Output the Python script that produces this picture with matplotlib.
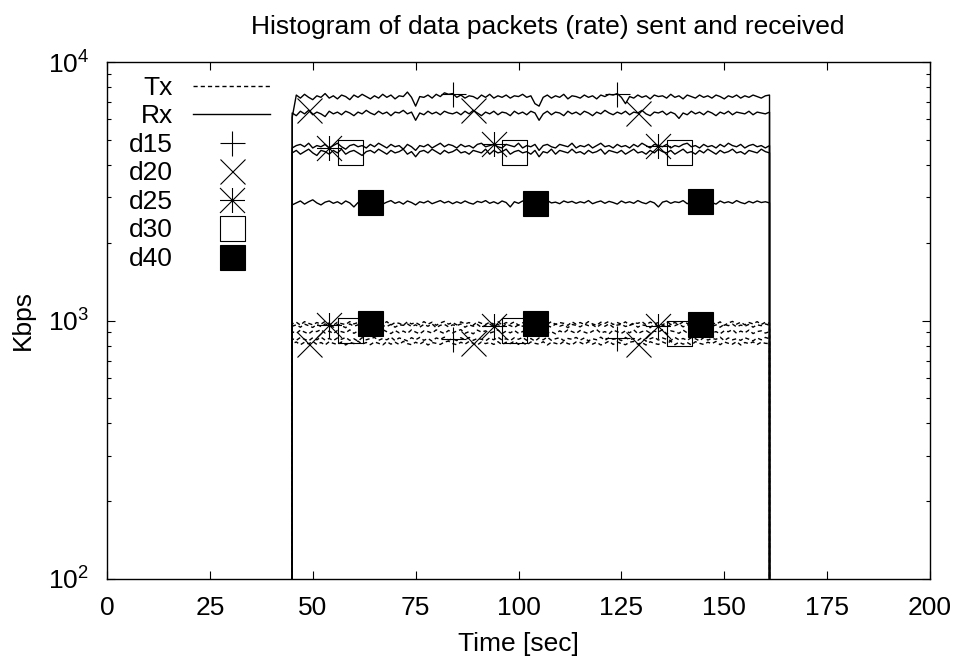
import numpy as np
import matplotlib
matplotlib.use("Agg")
import matplotlib.pyplot as plt
from matplotlib.path import Path
from matplotlib.lines import Line2D

plt.rcParams['font.family'] = ['Liberation Sans', 'DejaVu Sans']

# ---------------- data ----------------
T_START = 45          # first second of traffic
MARK_EVERY = 40       # a point symbol every 40 samples
datasets = ["d15", "d20", "d25", "d30", "d40"]
mark_first = [84, 49, 54, 59, 64]   # time of first visible symbol

rx_d15 = [6100, 7450, 7250, 7500, 7300, 7150, 7400, 7300, 7550, 7250,
          7400, 7200, 7450, 7350, 7150, 7450, 7300, 7500, 7350, 7200,
          7400, 7250, 7500, 7300, 7450, 7200, 7400, 7350, 7650, 7300,
          6750, 7350, 7300, 7450, 7250, 7500, 7350, 7600, 7500, 7550,
          7300, 7450, 7250, 7400, 7350, 7200, 7450, 7300, 7500, 7250,
          7400, 7300, 7450, 7250, 7400, 7350, 7500, 7300, 7400, 6900,
          6750, 7300, 7450, 7250, 7400, 7300, 7500, 7200, 7400, 7350,
          7250, 7450, 7300, 7400, 7200, 7450, 7350, 7500, 7450, 7550,
          7300, 6900, 7350, 7250, 7450, 7300, 7400, 7200, 7450, 7350,
          7400, 7250, 7500, 7300, 7400, 7200, 7450, 7350, 7250, 7450,
          7300, 7400, 7250, 7450, 7350, 7200, 7400, 7300, 7450, 7250,
          7400, 7300, 7450, 7350, 7250, 7400, 7450]
rx_d20 = [6350, 6200, 6450, 6300, 6500, 6250, 6400, 6300, 6150, 6450,
          6300, 6400, 6250, 6450, 6350, 6200, 6400, 6300, 6500, 6350,
          6250, 6450, 6300, 6400, 6200, 6400, 6350, 6500, 6300, 6400,
          5950, 6350, 6250, 6450, 6300, 6400, 6250, 6450, 6350, 6300,
          6400, 6250, 6450, 6300, 6500, 6350, 6200, 6400, 6300, 6450,
          6250, 6400, 6350, 6200, 6450, 6300, 6400, 6250, 6450, 6350,
          5950, 6300, 6450, 6250, 6400, 6350, 6200, 6450, 6300, 6400,
          6250, 6450, 6350, 6200, 6400, 6300, 6500, 6350, 6250, 6400,
          6300, 6450, 6250, 6400, 6350, 6500, 6300, 6200, 6400, 6350,
          6450, 6250, 6400, 6300, 6050, 6350, 6250, 6450, 6300, 6400,
          6250, 6450, 6350, 6200, 6400, 6300, 6450, 6250, 6400, 6350,
          6300, 6450, 6250, 6400, 6350, 6300, 6400]
rx_d25 = [4650, 4750, 4800, 4700, 4850, 4650, 4750, 4700, 4800, 4650,
          4750, 4850, 4700, 4600, 4750, 4800, 4700, 4750, 4650, 4800,
          4700, 4850, 4750, 4650, 4800, 4700, 4750, 4600, 4800, 4700,
          4550, 4750, 4700, 4800, 4650, 4750, 4850, 4700, 4800, 4750,
          4650, 4800, 4700, 4750, 4650, 4800, 4850, 4700, 4750, 4800,
          4700, 4650, 4800, 4750, 4700, 4850, 4650, 4750, 4700, 4800,
          4550, 4750, 4800, 4700, 4650, 4800, 4750, 4700, 4850, 4650,
          4750, 4700, 4800, 4650, 4750, 4850, 4700, 4750, 4650, 4800,
          4700, 4750, 4650, 4800, 4700, 4850, 4750, 4650, 4800, 4750,
          4700, 4800, 4650, 4750, 4700, 4800, 4850, 4700, 4750, 4650,
          4800, 4700, 4750, 4650, 4800, 4700, 4850, 4750, 4700, 4800,
          4650, 4750, 4800, 4700, 4750, 4650, 4750]
rx_d30 = [4450, 4550, 4400, 4500, 4600, 4450, 4350, 4550, 4500, 4400,
          4550, 4450, 4600, 4400, 4500, 4550, 4450, 4350, 4500, 4550,
          4450, 4600, 4500, 4400, 4550, 4450, 4500, 4600, 4400, 4500,
          4300, 4500, 4550, 4450, 4600, 4500, 4400, 4550, 4450, 4500,
          4600, 4450, 4500, 4400, 4550, 4500, 4450, 4600, 4400, 4550,
          4450, 4500, 4600, 4400, 4500, 4550, 4450, 4500, 4400, 4550,
          4300, 4500, 4450, 4600, 4400, 4550, 4500, 4450, 4600, 4450,
          4500, 4400, 4550, 4450, 4500, 4600, 4400, 4550, 4500, 4450,
          4550, 4400, 4500, 4600, 4450, 4500, 4400, 4550, 4450, 4600,
          4500, 4450, 4550, 4400, 4500, 4600, 4450, 4500, 4400, 4550,
          4450, 4600, 4500, 4400, 4550, 4450, 4500, 4600, 4450, 4500,
          4400, 4550, 4500, 4450, 4600, 4500, 4450]
rx_d40 = [2800, 2850, 2900, 2820, 2880, 2930, 2850, 2800, 2870, 2900,
          2840, 2880, 2820, 2900, 2850, 2750, 2860, 2900, 2840, 2880,
          2850, 2900, 2820, 2870, 2910, 2840, 2880, 2820, 2900, 2860,
          2800, 2880, 2850, 2900, 2830, 2870, 2910, 2850, 2890, 2830,
          2880, 2840, 2900, 2850, 2820, 2890, 2860, 2910, 2840, 2880,
          2830, 2900, 2860, 2750, 2880, 2840, 2900, 2850, 2890, 2860,
          2820, 2880, 2910, 2850, 2870, 2830, 2900, 2860, 2890, 2840,
          2880, 2850, 2910, 2830, 2870, 2900, 2840, 2890, 2860, 2820,
          2900, 2850, 2880, 2840, 2910, 2860, 2830, 2890, 2850, 2750,
          2870, 2900, 2840, 2880, 2860, 2910, 2830, 2880, 2850, 2900,
          2840, 2890, 2860, 2820, 2900, 2850, 2880, 2840, 2910, 2860,
          2830, 2890, 2850, 2900, 2860, 2880, 2850]

tx_d15 = [850, 838, 860, 846, 834, 858, 842, 862, 840, 852,
          836, 856, 846, 860, 838, 850, 832, 858, 842, 852,
          860, 838, 852, 842, 862, 836, 856, 846, 834, 858,
          842, 860, 838, 852, 832, 856, 846, 862, 840, 850,
          836, 858, 842, 860, 838, 852, 846, 834, 856, 842,
          862, 840, 850, 836, 858, 846, 860, 838, 852, 832,
          856, 842, 862, 838, 850, 858, 836, 852, 846, 860,
          840, 856, 834, 850, 842, 862, 838, 858, 846, 852,
          836, 860, 842, 852, 838, 858, 832, 850, 862, 840,
          856, 846, 836, 860, 842, 852, 838, 858, 850, 834,
          860, 840, 852, 846, 862, 836, 856, 842, 850, 838,
          858, 846, 834, 856, 842, 860, 850]
tx_d20 = [814, 826, 806, 824, 812, 830, 808, 822, 804, 828,
          816, 808, 826, 804, 824, 814, 832, 810, 822, 806,
          826, 816, 804, 828, 810, 824, 808, 830, 814, 806,
          824, 810, 828, 804, 822, 816, 808, 826, 832, 814,
          806, 824, 810, 830, 816, 804, 826, 814, 822, 808,
          828, 806, 824, 814, 832, 808, 822, 804, 826, 816,
          810, 828, 804, 824, 816, 808, 830, 814, 806, 826,
          822, 808, 828, 810, 824, 804, 816, 832, 808, 826,
          814, 806, 824, 830, 810, 822, 804, 828, 816, 808,
          826, 814, 832, 806, 824, 810, 822, 804, 828, 816,
          808, 824, 814, 830, 806, 826, 816, 810, 828, 804,
          822, 814, 826, 808, 824, 816, 814]
tx_d25 = [950, 962, 942, 968, 955, 940, 965, 948, 970, 958,
          942, 966, 955, 938, 970, 950, 962, 945, 966, 958,
          940, 968, 955, 948, 966, 942, 962, 958, 970, 948,
          962, 942, 966, 950, 970, 938, 958, 966, 945, 962,
          955, 970, 942, 962, 950, 966, 940, 960, 968, 948,
          965, 945, 968, 955, 940, 962, 950, 970, 942, 960,
          948, 966, 955, 942, 970, 950, 962, 938, 965, 958,
          945, 968, 955, 962, 940, 966, 950, 970, 942, 960,
          966, 948, 958, 970, 942, 962, 955, 938, 968, 950,
          960, 942, 966, 955, 970, 945, 962, 950, 966, 940,
          958, 970, 948, 962, 942, 966, 955, 968, 945, 960,
          950, 966, 942, 962, 955, 970, 958]
tx_d30 = [905, 892, 918, 902, 888, 912, 906, 922, 894, 910,
          890, 915, 905, 896, 920, 892, 910, 888, 918, 902,
          912, 894, 922, 905, 890, 915, 896, 910, 892, 920,
          902, 888, 912, 906, 894, 920, 905, 890, 915, 896,
          910, 922, 892, 906, 888, 918, 902, 912, 894, 905,
          920, 890, 910, 896, 915, 892, 906, 922, 888, 912,
          902, 918, 894, 905, 888, 912, 896, 920, 906, 892,
          915, 902, 890, 910, 922, 894, 906, 888, 918, 905,
          892, 912, 896, 920, 890, 906, 915, 894, 910, 902,
          922, 888, 912, 905, 892, 918, 896, 910, 890, 920,
          902, 915, 894, 906, 888, 912, 905, 922, 892, 910,
          896, 918, 890, 906, 912, 894, 905]
tx_d40 = [970, 985, 960, 990, 975, 962, 982, 968, 992, 972,
          958, 985, 972, 965, 990, 970, 982, 960, 988, 978,
          965, 985, 968, 990, 960, 982, 975, 958, 988, 970,
          982, 962, 990, 968, 985, 958, 978, 992, 968, 982,
          962, 988, 970, 982, 958, 990, 975, 965, 985, 968,
          990, 962, 982, 970, 988, 958, 980, 968, 992, 975,
          958, 985, 968, 990, 965, 982, 975, 958, 988, 968,
          982, 965, 990, 970, 958, 985, 975, 992, 965, 982,
          968, 988, 958, 980, 975, 990, 962, 985, 970, 982,
          958, 990, 968, 982, 965, 988, 975, 958, 985, 970,
          990, 965, 982, 968, 988, 958, 978, 992, 968, 985,
          962, 982, 970, 990, 965, 985, 975]

tx_series = [tx_d15, tx_d20, tx_d25, tx_d30, tx_d40]
rx_series = [rx_d15, rx_d20, rx_d25, rx_d30, rx_d40]

x_ticks = [0, 25, 50, 75, 100, 125, 150, 175, 200]

# ---------------- style ----------------
FS = 19
FLOOR = 1.0   # below the axis: draws the vertical start/stop edges
DASH = (0, (3.0, 2.2))
MS = 18
MEW = 0.8

aster = Path([(-1, 0), (1, 0), (0, -1), (0, 1), (-1, -1), (1, 1), (-1, 1), (1, -1)],
             [Path.MOVETO, Path.LINETO] * 4)
box_dot = Path([(-1, -1), (1, -1), (1, 1), (-1, 1), (-1, -1),
                (-0.03, -0.03), (0.03, -0.03), (0.03, 0.03), (-0.03, 0.03), (-0.03, -0.03)],
               [Path.MOVETO, Path.LINETO, Path.LINETO, Path.LINETO, Path.CLOSEPOLY] * 2)
marker_styles = [
    dict(marker='+'),
    dict(marker='x'),
    dict(marker=aster),
    dict(marker=box_dot, markerfacecolor='none'),
    dict(marker='s', markerfacecolor='black'),
]

fig = plt.figure(figsize=(9.61, 6.65), dpi=100)
ax = fig.add_axes([107 / 961, 1 - 579 / 665, 823 / 961, 517 / 665])

for name, tx, rx, first, mst in zip(datasets, tx_series, rx_series, mark_first, marker_styles):
    for vals, ls in ((tx, DASH), (rx, '-')):
        t = T_START + np.arange(len(vals))
        x = np.r_[t[0], t, t[-1]]
        y = np.r_[FLOOR, vals, FLOOR]
        ax.plot(x, y, color='black', lw=1.0, linestyle=ls,
                markevery=slice(first - T_START + 1, None, MARK_EVERY),
                markersize=MS, markeredgewidth=MEW, markeredgecolor='black',
                **mst)

ax.set_yscale('log')
ax.set_xlim(x_ticks[0], x_ticks[-1])
ax.set_ylim(100, 10000)
ax.set_xticks(x_ticks)
ax.tick_params(which='both', direction='in', top=True, right=True, labelsize=FS, width=0.8)
ax.tick_params(which='major', length=5.8)
ax.tick_params(which='minor', length=3.0)
ax.tick_params(axis='x', pad=12)
ax.tick_params(axis='y', pad=13)
for s in ax.spines.values():
    s.set_linewidth(1.0)

ax.set_xlabel('Time [sec]', fontsize=FS, labelpad=9)
ax.set_ylabel('Kbps', fontsize=FS, labelpad=9)
fig.text(548 / 961, 1 - 27 / 665, 'Histogram of data packets (rate) sent and received',
         fontsize=FS, ha='center', va='center')

handles = [Line2D([], [], color='black', lw=1.0, linestyle=DASH),
           Line2D([], [], color='black', lw=1.0)]
for mst in marker_styles:
    handles.append(Line2D([], [], linestyle='none', color='black', markersize=MS,
                          markeredgewidth=MEW, markeredgecolor='black', **mst))
labels = ['Tx', 'Rx'] + datasets
fs_px = FS * 100 / 72
ax.legend(handles, labels, loc='upper right', bbox_to_anchor=((270 - 107) / 823, (579 - 76) / 517),
          markerfirst=False, frameon=False, fontsize=FS, borderpad=0, borderaxespad=0,
          handlelength=77 / fs_px, handletextpad=20 / fs_px, labelspacing=0.17,
          handleheight=0.7)

fig.savefig('out.png', dpi=100)
